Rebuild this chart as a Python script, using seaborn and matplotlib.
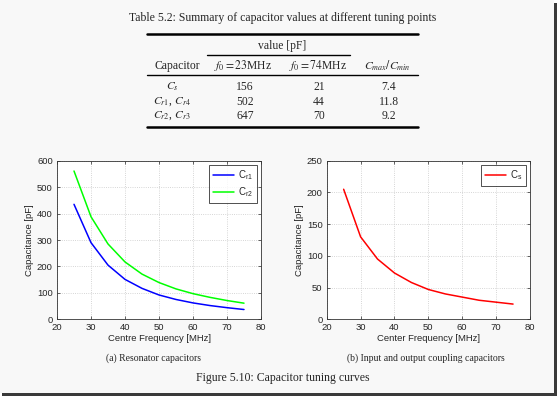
import numpy as np
import pandas as pd
import matplotlib
matplotlib.use("Agg")
import matplotlib.pyplot as plt
import seaborn as sns
from matplotlib.patches import Rectangle
from matplotlib.lines import Line2D

# ---------- data ----------
freq = [25, 30, 35, 40, 45, 50, 55, 60, 65, 70, 75]
c_r1 = [435, 290, 205, 151, 117, 92, 75, 62, 52, 44, 37]
c_r2 = [561, 388, 285, 217, 171, 139, 115, 97, 83, 71, 61]
c_s = [205, 130, 95, 73, 58, 47, 40, 35, 30, 27, 24]

table_caps = ["$C_s$", "$C_{r1}$, $C_{r4}$", "$C_{r2}$, $C_{r3}$"]
table_f23 = ["156", "502", "647"]
table_f74 = ["21", "44", "70"]
table_ratio = ["7.4", "11.8", "9.2"]

sns.set_style("white")
plt.rcParams["font.family"] = ["Liberation Sans", "DejaVu Sans"]
plt.rcParams["mathtext.fontset"] = "stix"

W, H = 559, 399
fig = plt.figure(figsize=(W / 100, H / 100), dpi=100)
fig.patch.set_facecolor("white")

# page + shadow
fig.patches.append(Rectangle((0, 1 - 393 / H), 554 / W, 393 / H, transform=fig.transFigure,
                             facecolor="#f8f8f8", edgecolor="none", zorder=-10))
fig.patches.append(Rectangle((554 / W, 1 - 395 / H), 3 / W, 392 / H, transform=fig.transFigure,
                             facecolor="#3a3a3a", edgecolor="none", zorder=-9))
fig.patches.append(Rectangle((2 / W, 1 - 396 / H), 555 / W, 3 / H, transform=fig.transFigure,
                             facecolor="#3a3a3a", edgecolor="none", zorder=-9))


def fx(px):
    return px / W


def fy(py):
    return 1 - py / H


serif = ["Liberation Serif", "DejaVu Serif"]
tfs = 8.4

# ---------- table ----------
fig.text(fx(283), fy(18), "Table 5.2: Summary of capacitor values at different tuning points",
         ha="center", va="center", family=serif, fontsize=8.5)


def rule(x0, x1, y, lw):
    fig.add_artist(Line2D([fx(x0), fx(x1)], [fy(y), fy(y)], transform=fig.transFigure,
                          color="black", lw=lw))


rule(147, 418, 33.5, 1.8)
fig.text(fx(282), fy(46), "value [pF]", ha="center", va="center", family=serif, fontsize=tfs)
rule(207, 350, 54.5, 1.0)
header_x = [177, 243, 318, 387]
headers = ["Capacitor", "$f_0 = 23$MHz", "$f_0 = 74$MHz", "$C_{max}/C_{min}$"]
for x, h in zip(header_x, headers):
    fig.text(fx(x), fy(65.5), h, ha="center", va="center", family=serif, fontsize=tfs)
rule(147, 418, 75, 1.0)
col_x = [172, 245, 319, 389]
for i, row in enumerate(zip(table_caps, table_f23, table_f74, table_ratio)):
    y = 87 + i * 14.6
    for x, v in zip(col_x, row):
        fig.text(fx(x), fy(y), v, ha="center", va="center", family=serif, fontsize=tfs)
rule(147, 418, 126.7, 1.8)

# ---------- plots ----------
df_r = pd.DataFrame({"freq": freq * 2,
                     "cap": c_r1 + c_r2,
                     "name": ["$\\mathregular{C_{r1}}$"] * len(freq) + ["$\\mathregular{C_{r2}}$"] * len(freq)})
df_s = pd.DataFrame({"freq": freq, "cap": c_s, "name": ["$\\mathregular{C_s}$"] * len(freq)})

ax1 = fig.add_axes([fx(57), fy(319.3), fx(204), 158.6 / H])
ax2 = fig.add_axes([fx(326.7), fy(319.3), fx(203.3), 158.6 / H])

sns.lineplot(data=df_r, x="freq", y="cap", hue="name", palette=["#0000ff", "#00ff00"],
             lw=1.1, ax=ax1)
sns.lineplot(data=df_s, x="freq", y="cap", hue="name", palette=["#ff0000"], lw=1.1, ax=ax2)

for ax, ymax, ystep, xlabel in [(ax1, 600, 100, "Centre Frequency [MHz]"),
                                (ax2, 250, 50, "Center Frequency [MHz]")]:
    ax.set_facecolor("white")
    ax.set_xlim(20, 80)
    ax.set_ylim(0, ymax)
    ax.set_xticks(np.arange(20, 81, 10))
    ax.set_yticks(np.arange(0, ymax + 1, ystep))
    ax.grid(True, linestyle=":", color="#c8c8c8", lw=0.6)
    ax.tick_params(direction="in", length=2.5, width=0.5, labelsize=6.8,
                   top=True, right=True, bottom=True, left=True)
    ax.tick_params(axis="x", pad=2.5)
    ax.tick_params(axis="y", pad=3)
    for sp in ax.spines.values():
        sp.set_visible(True)
        sp.set_color("#333333")
        sp.set_linewidth(0.6)
    ax.set_xlabel(xlabel, fontsize=6.8, labelpad=1.5)
    ax.set_ylabel("Capacitance [pF]", fontsize=6.8, labelpad=2)
    leg = ax.legend(loc="upper right", fontsize=7, frameon=True, fancybox=False,
                    handlelength=2.2, borderpad=0.4, labelspacing=0.3, borderaxespad=0.4,
                    handletextpad=0.4)
    leg.get_frame().set_edgecolor("black")
    leg.get_frame().set_linewidth(0.6)

# ---------- captions ----------
fig.text(fx(153), fy(358), "(a) Resonator capacitors", ha="center", va="center",
         family=serif, fontsize=7.0)
fig.text(fx(426), fy(358), "(b) Input and output coupling capacitors", ha="center",
         va="center", family=serif, fontsize=7.0)
fig.text(fx(283), fy(378), "Figure 5.10: Capacitor tuning curves", ha="center", va="center",
         family=serif, fontsize=8.5)

fig.savefig("out.png", dpi=100)
